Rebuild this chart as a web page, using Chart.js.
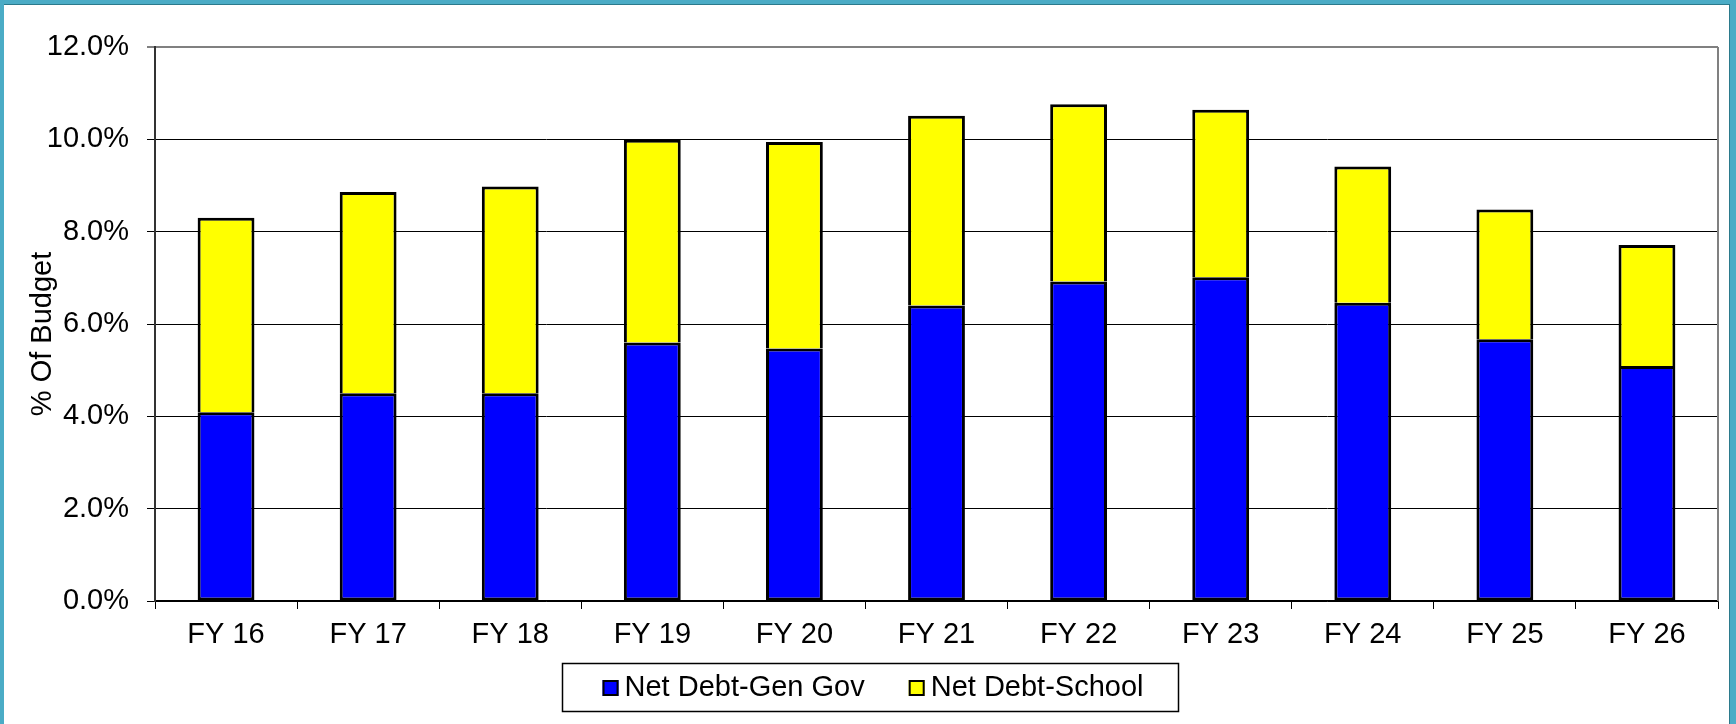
<!DOCTYPE html>
<html><head><meta charset="utf-8">
<script src="https://cdn.jsdelivr.net/npm/chart.js@4"></script>
<style>
html,body{margin:0;padding:0;width:1736px;height:724px;overflow:hidden;background:#4bacc6;}
#panel{position:absolute;left:4px;top:4px;width:1726px;height:720px;background:#fff;border-top:1px solid #2b7a8c;border-right:1px solid #2b7a8c;box-sizing:border-box;}
#c{position:absolute;left:0;top:0;}
</style></head><body>
<div id="panel"></div>
<canvas id="c" width="1736" height="724"></canvas>
<script>
const categories = ['FY 16','FY 17','FY 18','FY 19','FY 20','FY 21','FY 22','FY 23','FY 24','FY 25','FY 26'];
const genGov = [4.09, 4.50, 4.50, 5.60, 5.47, 6.40, 6.92, 7.01, 6.46, 5.67, 5.09];
const school = [4.21, 4.36, 4.48, 4.39, 4.47, 4.11, 3.84, 3.63, 2.95, 2.81, 2.62];
const yTicks = [0, 2, 4, 6, 8, 10, 12];
const seriesNames = ['Net Debt-Gen Gov', 'Net Debt-School'];
const yTitle = '% Of Budget';

const FONT_FAMILY = '"Liberation Sans", Arial, Helvetica, sans-serif';
Chart.defaults.font.family = FONT_FAMILY;
Chart.defaults.color = '#000';

const plotFrame = {
  id: 'plotFrame',
  beforeDatasetsDraw(chart) {
    const a = chart.chartArea, ctx = chart.ctx;
    ctx.save();
    ctx.strokeStyle = '#808080';
    ctx.lineWidth = 2;
    ctx.beginPath();
    ctx.moveTo(a.right, a.top);
    ctx.lineTo(a.right, a.bottom);
    ctx.stroke();
    ctx.restore();
  }
};

const axisTitle = {
  id: 'axisTitle',
  afterDraw(chart) {
    const ctx = chart.ctx, a = chart.chartArea;
    ctx.save();
    ctx.font = '29px ' + FONT_FAMILY;
    ctx.fillStyle = '#000';
    ctx.translate(43, (a.top + a.bottom) / 2 + 10);
    ctx.rotate(-Math.PI / 2);
    ctx.textAlign = 'center';
    ctx.textBaseline = 'middle';
    ctx.fillText(yTitle, 0, 0);
    ctx.restore();
  }
};

const legendBox = {
  id: 'legendBox',
  afterDraw(chart) {
    const ctx = chart.ctx;
    ctx.save();
    ctx.font = '29px ' + FONT_FAMILY;
    const sq = 16, gap = 6, itemGap = 44, padL = 41, padR = 34;
    const ds = chart.data.datasets;
    const widths = ds.map(d => ctx.measureText(d.label).width);
    const content = ds.reduce((s, d, i) => s + sq + gap + widths[i], 0) + itemGap * (ds.length - 1);
    const cx = 873, cy = 688;
    let x = cx - content / 2;
    ctx.strokeStyle = '#000';
    ctx.lineWidth = 1.5;
    ctx.strokeRect(Math.round(x - padL) + 0.5, 663.5, Math.round(content + padL + padR), 48);
    ds.forEach((d, i) => {
      ctx.fillStyle = d.backgroundColor;
      ctx.fillRect(x, cy - sq / 2, sq, sq);
      ctx.strokeStyle = '#000';
      ctx.lineWidth = 2;
      ctx.strokeRect(x + 1, cy - sq / 2 + 1, sq - 2, sq - 2);
      ctx.fillStyle = '#000';
      ctx.textBaseline = 'middle';
      ctx.textAlign = 'left';
      ctx.fillText(d.label, x + sq + gap, cy);
      x += sq + gap + widths[i] + itemGap;
    });
    ctx.restore();
  }
};

new Chart(document.getElementById('c'), {
  type: 'bar',
  data: {
    labels: categories,
    datasets: [
      { label: seriesNames[0], data: genGov, backgroundColor: '#0000ff', borderColor: '#000', borderWidth: 3, borderSkipped: false },
      { label: seriesNames[1], data: school, backgroundColor: '#ffff00', borderColor: '#000', borderWidth: 3, borderSkipped: 'start' }
    ]
  },
  options: {
    responsive: false,
    animation: false,
    events: [],
    layout: { padding: { left: 0, top: 47, right: 18, bottom: 73 } },
    datasets: { bar: { barPercentage: 0.4, categoryPercentage: 1.0 } },
    plugins: { legend: { display: false }, tooltip: { enabled: false } },
    scales: {
      x: {
        stacked: true,
        afterFit(s) { s.height = 50; },
        grid: { offset: true, drawOnChartArea: false, drawTicks: true, tickLength: 8, color: '#000', lineWidth: 1 },
        border: { display: true, color: '#000', width: 1.5 },
        ticks: { font: { size: 29 }, color: '#000', padding: 9, maxRotation: 0, autoSkip: false }
      },
      y: {
        stacked: true,
        min: 0, max: 12,
        afterFit(s) { s.width = 155; },
        afterBuildTicks(s) { s.ticks = yTicks.map(v => ({ value: v })); },
        grid: {
          drawTicks: true, tickLength: 8,
          color: c => (c.tick && c.tick.value === 12) ? '#808080' : '#000',
          lineWidth: c => (c.tick && c.tick.value === 12) ? 2 : 1
        },
        border: { display: true, color: '#333', width: 2 },
        ticks: { font: { size: 29 }, color: '#000', padding: 18, callback: v => Number(v).toFixed(1) + '%' },
        title: { display: false }
      }
    }
  },
  plugins: [plotFrame, axisTitle, legendBox]
});
</script>
</body></html>
